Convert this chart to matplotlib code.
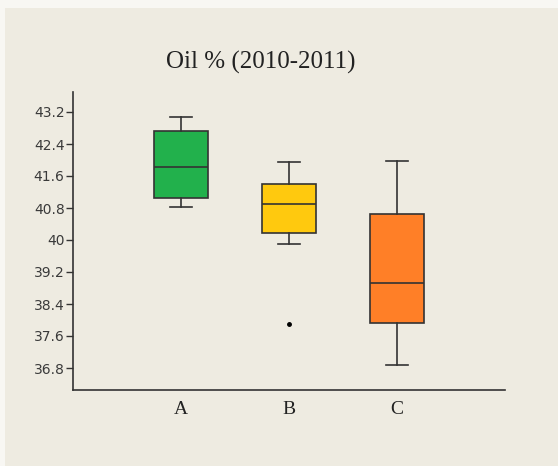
import matplotlib.pyplot as plt
from matplotlib.patches import Rectangle

# box statistics
groups = ["A", "B", "C"]
lower_whisker = [40.83, 39.91, 36.88]
q1 = [41.06, 40.17, 37.93]
median = [41.82, 40.91, 38.93]
q3 = [42.73, 41.40, 40.64]
upper_whisker = [43.08, 41.95, 41.98]
outliers = [[], [37.90], []]
colors = ["#22B14C", "#FFC90E", "#FF7F27"]
yticks = [36.8, 37.6, 38.4, 39.2, 40, 40.8, 41.6, 42.4, 43.2]
ytick_labels = ["36.8", "37.6", "38.4", "39.2", "40", "40.8", "41.6", "42.4", "43.2"]

bg = "#EEEBE1"
W, H = 558, 466

fig = plt.figure(figsize=(W / 100, H / 100), dpi=100, facecolor="#F8F7F3")
fig.patches.append(Rectangle((5 / W, 0), 1, (H - 8) / H, transform=fig.transFigure,
                             facecolor=bg, edgecolor="none", zorder=-10))
ax = fig.add_axes([73 / W, (H - 390) / H, (505 - 73) / W, (390 - 92) / H])
ax.set_facecolor(bg)

stats = []
for i, g in enumerate(groups):
    stats.append(dict(label=g, whislo=lower_whisker[i], q1=q1[i], med=median[i],
                      q3=q3[i], whishi=upper_whisker[i], fliers=outliers[i]))

bp = ax.bxp(stats, positions=[1, 2, 3], widths=0.5, patch_artist=True,
            boxprops=dict(edgecolor="#333333", linewidth=1.2),
            medianprops=dict(color="#333333", linewidth=1.2),
            whiskerprops=dict(color="#333333", linewidth=1.2),
            capprops=dict(color="#333333", linewidth=1.2),
            capwidths=0.2,
            flierprops=dict(marker="o", markersize=2.5, markerfacecolor="black",
                            markeredgecolor="black"))
for box, c in zip(bp["boxes"], colors):
    box.set_facecolor(c)

ax.set_xlim(0, 4)
ax.set_ylim(36.25, 43.7)
ax.set_yticks(yticks)
ax.set_yticklabels(ytick_labels, fontsize=10, color="#3a3a3a", family="DejaVu Sans")
ax.set_xticks([1, 2, 3])
ax.set_xticklabels(groups, fontsize=14, family="Liberation Serif", color="#222222")
ax.tick_params(axis="x", length=0, pad=8)
ax.tick_params(axis="y", length=5, width=1, color="#333333", pad=1)

for s in ["top", "right"]:
    ax.spines[s].set_visible(False)
for s in ["left", "bottom"]:
    ax.spines[s].set_color("#333333")
    ax.spines[s].set_linewidth(1.2)

fig.text(261 / W, 1 - 62 / H, "Oil % (2010-2011)", ha="center", va="center",
         fontsize=18, family="Liberation Serif", color="#222222")

fig.savefig("out.png", dpi=100, facecolor=fig.get_facecolor())
